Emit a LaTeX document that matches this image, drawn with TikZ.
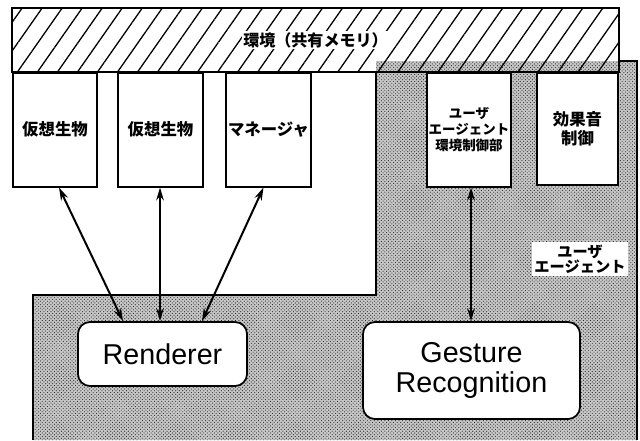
\documentclass[tikz,border=0pt]{standalone}
\usepackage{fontspec}
\setmainfont{Liberation Sans}
\newfontfamily\jp{Noto Sans CJK JP}
\usepackage{tikz}
\usetikzlibrary{arrows.meta,patterns,patterns.meta,calc}

\tikzset{
  module/.style={draw,line width=1.3pt,fill=white,inner sep=0pt,align=center,
    minimum width=2.52cm,minimum height=3.42cm,anchor=north,
    font=\jp\bfseries\fontsize{14pt}{16pt}\selectfont},
  proc/.style={draw,line width=1.5pt,fill=white,rounded corners=0.36cm,align=center,
    font=\fontsize{24.5pt}{26pt}\selectfont},
  link/.style={<->,line width=1.7pt},
  dots/.style={pattern=crosshatch dots,pattern color=black!85}
}

\begin{document}
\begin{tikzpicture}[x=0.03cm,y=-0.03cm,>={Stealth[length=11pt,width=6.5pt]}]
\useasboundingbox (0,0) rectangle (640,440);
% user agent area
\fill[black!22] (376,61)--(637,61)--(637,440)--(33,440)--(33,295)--(376,295)--cycle;
\fill[dots] (376,61)--(637,61)--(637,440)--(33,440)--(33,295)--(376,295)--cycle;
\draw[line width=1.3pt] (33,440)--(33,295)--(376,295)--(376,72);
\draw[line width=1.3pt] (619,61)--(637,61)--(637,440);
% shared memory
\node[draw,line width=1.3pt,fill=white,minimum width=18.21cm,minimum height=1.92cm,
  pattern={Lines[angle=55,distance=14pt,line width=1.1pt]}] (env) at (315.5,40) {};
\node[fill=white,inner sep=1pt,font=\jp\bfseries\fontsize{13.7pt}{15pt}\selectfont] (envtxt) at (env.center) {環境（共有メモリ）};
% modules
\node[module] (bio1) at (55,72) {仮想生物};
\node[module,minimum width=2.55cm] (bio2) at (160.5,72) {仮想生物};
\node[module,minimum width=2.55cm] (mgr) at (268.5,72) {マネージャ};
\node[module,font=\jp\bfseries\fontsize{11.5pt}{13.6pt}\selectfont] (uaenv) at (469,72) {ユーザ\\エージェント\\環境制御部};
\node[module,minimum width=2.43cm,minimum height=3.36cm] (sound) at (577.5,72) {効果音\\制御};
\node[fill=white,inner sep=2pt,align=center,font=\jp\bfseries\fontsize{13pt}{13pt}\selectfont] (ua) at (580,259) {ユーザ\\エージェント};
% processes
\node[proc,minimum width=5.07cm,minimum height=1.92cm] (rend) at (162.5,354) {Renderer};
\node[proc,minimum width=6.51cm,minimum height=2.91cm] (gest) at (471.5,370.5) {Gesture\\Recognition};
% links
\draw[link] ($(bio1.south)+(4,0)$) -- ($(rend.north)+(-39.5,0)$);
\draw[link] ($(bio2.south)+(-0.5,0)$) -- ($(rend.north)+(-2.5,0)$);
\draw[link] ($(mgr.south)+(-5,0)$) -- ($(rend.north)+(39.5,0)$);
\draw[link] ($(uaenv.south)+(2,0)$) -- ($(gest.north)+(-0.5,0)$);
\end{tikzpicture}
\end{document}
